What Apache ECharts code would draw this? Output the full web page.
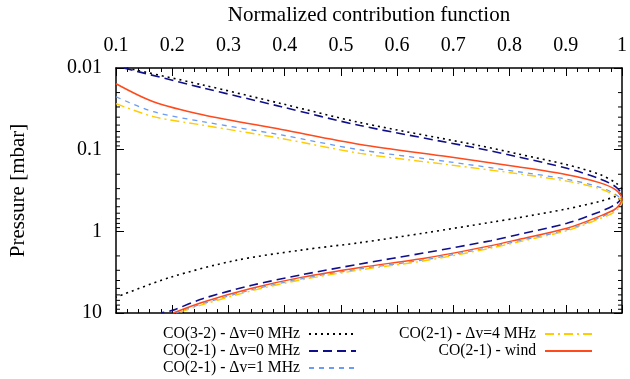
<!DOCTYPE html>
<html><head><meta charset="utf-8">
<script src="https://cdn.jsdelivr.net/npm/echarts@6/dist/echarts.min.js"></script>
<style>html,body{margin:0;padding:0;background:#fff}#c{width:630px;height:379px}</style>
</head><body><div id="c"></div>
<script>
const FONT = 'Liberation Serif';
const xTitle = 'Normalized contribution function';
const yTitle = 'Pressure [mbar]';
const seriesNames = ['CO(3-2) - \u0394v=0 MHz', 'CO(2-1) - \u0394v=0 MHz', 'CO(2-1) - \u0394v=1 MHz', 'CO(2-1) - \u0394v=4 MHz', 'CO(2-1) - wind'];
// [normalized contribution, pressure in mbar], traced from top branch through the peak to the bottom branch
const co32_dv0 = [[0.119,0.0100],[0.2541,0.0161],[0.3942,0.0273],[0.5343,0.0466],[0.7444,0.0887],[0.8144,0.1125],[0.9020,0.1530],[0.9597,0.200],[0.9895,0.257],[1.0,0.3122],[0.9895,0.369],[0.9597,0.4308],[0.9020,0.531],[0.8144,0.684],[0.7671,0.7750],[0.6516,1.040],[0.5343,1.375],[0.4292,1.697],[0.3119,2.277],[0.1963,3.663],[0.1,6.41]];
const co21_dv0 = [[0.114,0.0100],[0.2541,0.0175],[0.3942,0.0298],[0.5343,0.0507],[0.7444,0.0964],[0.8144,0.1223],[0.9020,0.169],[0.9597,0.2263],[0.9895,0.2871],[1.0,0.369],[0.9895,0.462],[0.9597,0.578],[0.9020,0.7974],[0.8144,1.0997],[0.7671,1.301],[0.6516,1.820],[0.5343,2.510],[0.4292,3.415],[0.3416,4.58],[0.2541,6.683],[0.2016,9.22],[0.1805,10]];
const co21_dv1 = [[0.1,0.0225],[0.1665,0.0343],[0.2541,0.0453],[0.3942,0.0661],[0.5343,0.1006],[0.6918,0.1407],[0.8144,0.1861],[0.9020,0.230],[0.9597,0.2871],[0.9843,0.340],[1.0,0.425],[0.9843,0.562],[0.9597,0.684],[0.9020,0.956],[0.8144,1.319],[0.7671,1.561],[0.6516,2.214],[0.5343,2.887],[0.4292,3.819],[0.3416,5.196],[0.2541,7.688],[0.2068,10]];
const co21_dv4 = [[0.1,0.0273],[0.1665,0.0394],[0.2541,0.0500],[0.3942,0.0729],[0.5343,0.111],[0.6918,0.1530],[0.8144,0.1968],[0.9020,0.243],[0.9597,0.2995],[0.9895,0.369],[1.0,0.436],[0.9895,0.562],[0.9597,0.703],[0.9020,0.983],[0.8144,1.356],[0.7671,1.604],[0.6516,2.277],[0.5343,2.970],[0.4292,3.928],[0.3416,5.343],[0.2541,7.906],[0.2103,10]];
const co21_wind = [[0.1,0.0156],[0.1665,0.0259],[0.2541,0.0373],[0.3942,0.0566],[0.5343,0.0862],[0.6918,0.1223],[0.8144,0.1618],[0.9020,0.2024],[0.9597,0.2532],[0.9895,0.3122],[1.0,0.402],[0.9895,0.5240],[0.9597,0.6554],[0.9020,0.9169],[0.8144,1.265],[0.7671,1.496],[0.6516,2.123],[0.5343,2.768],[0.4292,3.663],[0.3416,4.98],[0.2541,7.37],[0.2016,10]];
const yMinorTicks = [0.02,0.03,0.04,0.05,0.06,0.07,0.08,0.09,0.2,0.3,0.4,0.5,0.6,0.7,0.8,0.9,2,3,4,5,6,7,8,9];

const chart = echarts.init(document.getElementById('c'), null, {renderer: 'canvas'});
const axLine = {show: true, lineStyle: {color: '#000', width: 1.5}};
const xCommon = {type: 'value', min: 0.1, max: 1, interval: 0.1, splitLine: {show: false},
  axisLine: axLine, axisTick: {show: true, inside: true, length: 8, lineStyle: {color: '#000', width: 1}},
  minorTick: {show: true, splitNumber: 5, length: 4, lineStyle: {color: '#000', width: 1}}};
const yCommon = {type: 'log', logBase: 10, min: 0.01, max: 10, inverse: true, splitLine: {show: false},
  axisLine: axLine, axisTick: {show: true, inside: true, length: 8, lineStyle: {color: '#000', width: 1}}};

function lineSeries(name, data, color, type, width) {
  return {name: name, type: 'line', data: data, xAxisIndex: 0, yAxisIndex: 0, showSymbol: false, symbol: 'none',
    smooth: 0.3, clip: true, lineStyle: {color: color, type: type, width: width}, itemStyle: {color: color}};
}
const legendCommon = {orient: 'vertical', align: 'right', top: 326, padding: 0,
  itemWidth: 47, itemHeight: 10, itemGap: 1, formatter: n => n + ' ',
  itemStyle: {opacity: 0},
  textStyle: {fontFamily: FONT, fontSize: 15.7, color: '#000', lineHeight: 16}};

chart.setOption({
  animation: false,
  backgroundColor: '#fff',
  textStyle: {fontFamily: FONT},
  grid: {left: 112, right: 4, top: 66, bottom: 66},
  xAxis: [
    Object.assign({}, xCommon, {position: 'top', name: xTitle, nameLocation: 'middle', nameGap: 42,
      nameTextStyle: {fontFamily: FONT, fontSize: 21, color: '#000'},
      axisLabel: {fontFamily: FONT, fontSize: 20, color: '#000', margin: 12,
        formatter: v => (Math.abs(v - 1) < 1e-9 ? '1' : v.toFixed(1))}}),
    Object.assign({}, xCommon, {position: 'bottom', axisLabel: {show: false}})
  ],
  yAxis: [
    Object.assign({}, yCommon, {position: 'left', name: yTitle, nameLocation: 'middle', nameGap: 87,
      nameTextStyle: {fontFamily: FONT, fontSize: 21, color: '#000'},
      axisLabel: {fontFamily: FONT, fontSize: 20, color: '#000', margin: 14}}),
    Object.assign({}, yCommon, {position: 'right', axisLabel: {show: false}})
  ],
  legend: [
    Object.assign({}, legendCommon, {data: seriesNames.slice(0, 3), right: 273}),
    Object.assign({}, legendCommon, {data: seriesNames.slice(3), right: 37})
  ],
  series: [
    {type: 'custom', silent: true, xAxisIndex: 0, yAxisIndex: 0, clip: false,
      data: yMinorTicks.map(v => [1, v]), encode: {x: 0, y: 1},
      renderItem: function (params, api) {
        const v = api.value(1);
        const pL = api.coord([0.1, v]);
        const pR = api.coord([1, v]);
        const st = {stroke: '#000', lineWidth: 1};
        return {type: 'group', children: [
          {type: 'line', shape: {x1: pL[0], y1: pL[1], x2: pL[0] + 4, y2: pL[1]}, style: st},
          {type: 'line', shape: {x1: pR[0], y1: pR[1], x2: pR[0] - 4, y2: pR[1]}, style: st}
        ]};
      }},
    lineSeries(seriesNames[0], co32_dv0, '#000000', [2, 4], 1.6),
    lineSeries(seriesNames[1], co21_dv0, '#0f0f8c', [9, 5], 1.6),
    lineSeries(seriesNames[2], co21_dv1, '#6a9cf5', [5, 5], 1.3),
    lineSeries(seriesNames[3], co21_dv4, '#ffcc00', [9, 4, 2, 4], 1.4),
    lineSeries(seriesNames[4], co21_wind, '#ff4a1c', 'solid', 1.5)
  ]
});
</script></body></html>
